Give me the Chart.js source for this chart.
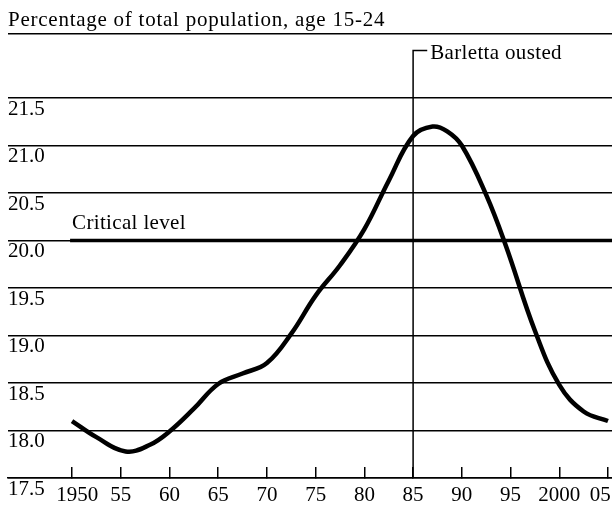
<!DOCTYPE html>
<html>
<head>
<meta charset="utf-8">
<script src="https://cdn.jsdelivr.net/npm/chart.js@4"></script>
<style>
html,body{margin:0;padding:0;background:#fff;}
canvas{display:block;}
</style>
</head>
<body>
<canvas id="c" width="612" height="506"></canvas>
<script>
// ---- data ----
const years = [1950, 1952.5, 1955.5, 1958, 1960, 1962.5, 1965, 1967.5, 1970, 1972.5, 1975, 1977.5, 1980, 1982.5, 1985, 1987, 1988.5, 1990, 1992.5, 1994.5, 1997.5, 2000, 2002.5, 2005];
const share = [18.10, 17.93, 17.78, 17.85, 17.99, 18.23, 18.49, 18.60, 18.71, 19.02, 19.42, 19.74, 20.12, 20.63, 21.10, 21.20, 21.15, 21.00, 20.48, 19.95, 19.05, 18.48, 18.20, 18.10];
const xTickYears = [1950, 1955, 1960, 1965, 1970, 1975, 1980, 1985, 1990, 1995, 2000, 2005];
const xTickLabels = ['1950', '55', '60', '65', '70', '75', '80', '85', '90', '95', '2000', '05'];
const yTickValues = [17.5, 18.0, 18.5, 19.0, 19.5, 20.0, 20.5, 21.0, 21.5];
const criticalLevel = 20.0;
const criticalLabel = 'Critical level';
const eventYear = 1985;
const eventLabel = 'Barletta ousted';
const titleText = 'Percentage of total population, age 15-24';

const X_MIN = 1943.43, X_MAX = 2005.41, Y_MIN = 17.5, Y_MAX = 22.174;
const EVENT_TOP = 22.0;
const FONT = 'Liberation Serif';
const NBSP = '\u00a0';

const annot = {
  id: 'annot',
  afterDatasetsDraw(chart) {
    const ctx = chart.ctx, xs = chart.scales.x, ys = chart.scales.y;
    ctx.save();
    ctx.fillStyle = '#000';
    ctx.textAlign = 'left';
    ctx.textBaseline = 'alphabetic';
    // title
    ctx.font = '21px "' + FONT + '"';
    ctx.letterSpacing = '0.75px';
    ctx.fillText(titleText, 8, 26);
    // annotations
    ctx.letterSpacing = '0.35px';
    ctx.fillText(criticalLabel, xs.getPixelForValue(1950), ys.getPixelForValue(criticalLevel) - 12);
    ctx.fillText(eventLabel, xs.getPixelForValue(eventYear + 1.75), ys.getPixelForValue(EVENT_TOP) + 8);
    ctx.restore();
  }
};

new Chart(document.getElementById('c'), {
  type: 'line',
  data: {
    datasets: [
      {
        data: years.map((y, i) => ({x: y, y: share[i]})),
        borderColor: '#000', borderWidth: 4.5, pointRadius: 0, tension: 0.4, fill: false
      },
      {
        data: [{x: 1949.8, y: criticalLevel}, {x: X_MAX, y: criticalLevel}],
        borderColor: '#000', borderWidth: 3.5, pointRadius: 0, tension: 0
      },
      {
        data: [{x: eventYear, y: Y_MIN}, {x: eventYear, y: EVENT_TOP}, {x: eventYear + 1.45, y: EVENT_TOP}],
        borderColor: '#000', borderWidth: 1.5, pointRadius: 0, tension: 0
      }
    ]
  },
  options: {
    responsive: false,
    animation: false,
    layout: {padding: {left: 8, right: 0, top: 34, bottom: 0}},
    plugins: {
      legend: {display: false},
      tooltip: {enabled: false},
      title: {display: false}
    },
    scales: {
      x: {
        type: 'linear', min: X_MIN, max: X_MAX,
        afterBuildTicks: s => { s.ticks = xTickYears.map(v => ({value: v})); },
        afterFit: s => { s.height = 28; s.paddingLeft = 0; s.paddingRight = 0; },
        grid: {drawOnChartArea: false, drawTicks: true, tickLength: -11, tickColor: '#000', lineWidth: 1.5},
        border: {display: true, color: '#000', width: 1.5},
        ticks: {
          autoSkip: false, maxRotation: 0, color: '#000', padding: 16,
          font: {family: FONT, size: 21},
          callback: (v, i) => {
            const t = xTickLabels[i];
            if (i === 0) return NBSP + NBSP + t;
            if (i === xTickLabels.length - 1) return t + NBSP + NBSP + NBSP;
            return t;
          }
        }
      },
      y: {
        min: Y_MIN, max: Y_MAX,
        afterBuildTicks: s => { s.ticks = yTickValues.concat([Y_MAX]).map(v => ({value: v})); },
        afterFit: s => { s.width = 0; s.paddingTop = 0; s.paddingBottom = 0; },
        grid: {color: '#000', lineWidth: 1.5, drawTicks: false},
        border: {display: false},
        ticks: {
          mirror: true, padding: 0, labelOffset: 11, color: '#000',
          font: {family: FONT, size: 21},
          callback: (v) => (v > 21.6 ? '' : Number(v).toFixed(1))
        }
      }
    }
  },
  plugins: [annot]
});
</script>
</body>
</html>
